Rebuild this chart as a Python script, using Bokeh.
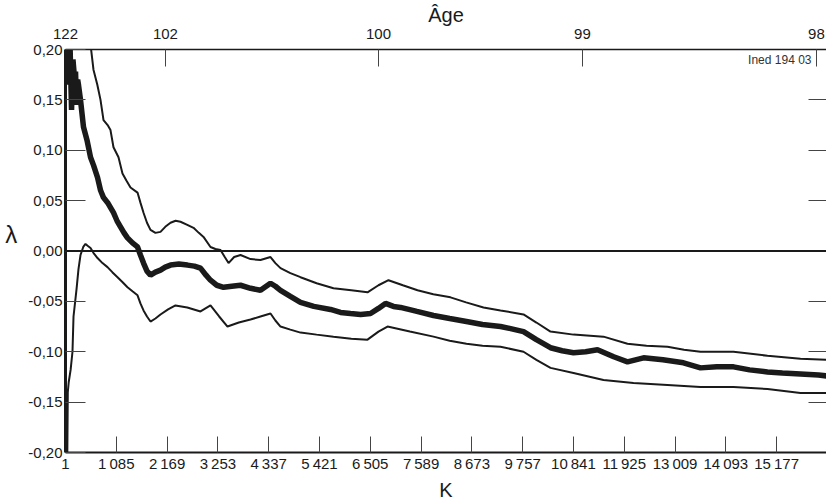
from bokeh.plotting import figure
from bokeh.models import Range1d, LinearAxis, FixedTicker, Span, Label
from bokeh.embed import file_html
from bokeh.resources import INLINE

# ---- data ----
k_ticks = [1, 1085, 2169, 3253, 4337, 5421, 6505, 7589, 8673, 9757, 10841, 11925, 13009, 14093, 15177]
k_labels = ["1", "1\u2009085", "2\u2009169", "3\u2009253", "4\u2009337", "5\u2009421", "6\u2009505",
            "7\u2009589", "8\u2009673", "9\u2009757", "10\u2009841", "11\u2009925", "13\u2009009",
            "14\u2009093", "15\u2009177"]
age_pos = [1, 2134, 6680, 11033, 16026]
age_labels = ["122", "102", "100", "99", "98"]
lam_ticks = [-0.20, -0.15, -0.10, -0.05, 0.0, 0.05, 0.10, 0.15, 0.20]
lam_labels = ["-0,20", "-0,15", "-0,10", "-0,05", "0,00", "0,05", "0,10", "0,15", "0,20"]

mid_k = [1, 20, 45, 70, 100, 130, 160, 193, 215, 236, 260, 278, 321, 385, 460, 535, 600, 684, 750,
         812, 900, 1025, 1100, 1175, 1250, 1324, 1430, 1538, 1600, 1666, 1740, 1815, 1920, 2028,
         2130, 2242, 2420, 2604, 2750, 2882, 3000, 3095, 3230, 3373, 3550, 3736, 3950, 4162, 4376,
         4480, 4589, 4800, 5016, 5300, 5656, 5870, 6083, 6300, 6510, 6680, 6830, 7000, 7150, 7500,
         7854, 8200, 8558, 8900, 9284, 9500, 9775, 10050, 10351, 10600, 10842, 11100, 11354, 11700,
         11994, 12336, 12750, 13190, 13552, 13900, 14257, 14600, 14982, 15300, 15686, 16070, 16241]
mid_lam = [0.200, 0.165, 0.200, 0.168, 0.200, 0.140, 0.190, 0.172, 0.178, 0.145, 0.170, 0.165,
           0.150, 0.123, 0.110, 0.093, 0.085, 0.073, 0.060, 0.053, 0.048, 0.038, 0.030, 0.024,
           0.018, 0.013, 0.008, 0.004, -0.004, -0.012, -0.020, -0.024, -0.021, -0.019, -0.016,
           -0.014, -0.013, -0.014, -0.015, -0.017, -0.024, -0.029, -0.034, -0.036, -0.035, -0.034,
           -0.037, -0.039, -0.032, -0.035, -0.039, -0.045, -0.051, -0.055, -0.058, -0.061, -0.062,
           -0.063, -0.062, -0.057, -0.052, -0.055, -0.056, -0.060, -0.064, -0.067, -0.070, -0.073,
           -0.075, -0.077, -0.080, -0.088, -0.096, -0.099, -0.101, -0.100, -0.098, -0.105, -0.110,
           -0.106, -0.108, -0.111, -0.116, -0.115, -0.115, -0.118, -0.120, -0.121, -0.122, -0.123,
           -0.124]

up_k = [535, 598, 680, 748, 812, 900, 961, 1025, 1132, 1217, 1300, 1388, 1538, 1600, 1666, 1740,
        1815, 1920, 2028, 2130, 2242, 2350, 2455, 2600, 2733, 2846, 2946, 3095, 3200, 3309, 3400,
        3480, 3600, 3736, 3950, 4162, 4376, 4480, 4589, 4800, 5016, 5360, 5720, 6100, 6446, 6680,
        6894, 7200, 7513, 7850, 8217, 8550, 8921, 9284, 9775, 10050, 10351, 10842, 11482, 11994,
        12400, 12848, 13200, 13552, 14257, 14982, 15686, 16241]
up_lam = [0.205, 0.180, 0.165, 0.150, 0.130, 0.125, 0.120, 0.103, 0.093, 0.077, 0.070, 0.063,
          0.058, 0.048, 0.038, 0.028, 0.021, 0.018, 0.019, 0.024, 0.028, 0.030, 0.029, 0.026,
          0.023, 0.018, 0.014, 0.004, 0.002, 0.001, -0.006, -0.012, -0.006, -0.004, -0.008,
          -0.009, -0.006, -0.012, -0.017, -0.022, -0.026, -0.032, -0.037, -0.039, -0.041, -0.034,
          -0.029, -0.034, -0.039, -0.043, -0.046, -0.051, -0.056, -0.059, -0.063, -0.071, -0.080,
          -0.083, -0.085, -0.092, -0.094, -0.095, -0.098, -0.100, -0.100, -0.104, -0.107, -0.108]

lo_k = [1, 40, 50, 70, 110, 150, 172, 236, 278, 321, 380, 428, 480, 535, 600, 684, 790, 897, 1000,
        1111, 1220, 1324, 1430, 1538, 1600, 1666, 1740, 1815, 1920, 2028, 2190, 2348, 2600, 2882,
        3095, 3280, 3458, 3700, 3949, 4162, 4376, 4480, 4589, 4800, 5016, 5360, 5720, 6100, 6446,
        6680, 6873, 7350, 7854, 8200, 8558, 8900, 9284, 9775, 10050, 10351, 10842, 11482, 12122,
        12848, 13552, 14257, 14982, 15686, 16241]
lo_lam = [-0.200, -0.200, -0.140, -0.130, -0.118, -0.100, -0.065, -0.038, -0.018, -0.004, 0.004,
          0.007, 0.005, 0.003, -0.002, -0.007, -0.012, -0.016, -0.021, -0.026, -0.031, -0.036,
          -0.040, -0.044, -0.052, -0.059, -0.065, -0.070, -0.067, -0.063, -0.058, -0.054, -0.056,
          -0.060, -0.054, -0.065, -0.075, -0.071, -0.068, -0.065, -0.062, -0.069, -0.075, -0.078,
          -0.081, -0.083, -0.085, -0.087, -0.088, -0.080, -0.075, -0.080, -0.085, -0.089, -0.092,
          -0.094, -0.095, -0.100, -0.108, -0.116, -0.121, -0.128, -0.131, -0.133, -0.135, -0.135,
          -0.137, -0.141, -0.141]

FONT = "Liberation Sans"
INK = "#1a1a1a"
TICK = "#444444"

p = figure(width=826, height=503, x_range=Range1d(1, 16241), y_range=Range1d(-0.20, 0.20),
           output_backend="svg", toolbar_location=None,
           x_axis_location=None, y_axis_location=None,
           min_border_left=65, min_border_right=0, min_border_top=49, min_border_bottom=51)
p.outline_line_color = None
p.background_fill_color = "white"
p.border_fill_color = "white"
for g in p.grid:
    g.visible = False


def style_axis(ax, tick_in, line_w):
    ax.major_tick_in = tick_in
    ax.major_tick_out = 0
    ax.minor_tick_in = 0
    ax.minor_tick_out = 0
    ax.major_tick_line_color = TICK
    ax.major_tick_line_width = 1
    ax.axis_line_color = INK
    ax.axis_line_width = line_w
    ax.major_label_text_font = FONT
    ax.major_label_text_font_size = "15px"
    ax.major_label_text_color = INK
    ax.axis_label_text_font = FONT
    ax.axis_label_text_font_style = "normal"
    ax.axis_label_text_color = INK


xb = LinearAxis(ticker=FixedTicker(ticks=k_ticks),
                major_label_overrides=dict(zip(k_ticks, k_labels)), axis_label="K")
style_axis(xb, 16, 2)
xb.major_label_standoff = 2
xb.axis_label_standoff = 4
xb.axis_label_text_font_size = "20px"
p.add_layout(xb, "below")

xt = LinearAxis(ticker=FixedTicker(ticks=age_pos),
                major_label_overrides=dict(zip(age_pos, age_labels)), axis_label="Âge")
style_axis(xt, 17, 1.5)
xt.major_label_standoff = 11
xt.axis_label_standoff = 0
xt.axis_label_text_font_size = "20px"
p.add_layout(xt, "above")

yl = LinearAxis(ticker=FixedTicker(ticks=lam_ticks),
                major_label_overrides=dict(zip(lam_ticks, lam_labels)), axis_label="λ\n\u00a0")
style_axis(yl, 20, 3)
yl.major_label_standoff = 3
yl.axis_label_standoff = 8
yl.axis_label_orientation = "horizontal"
yl.axis_label_text_font_size = "24px"
p.add_layout(yl, "left")

right_ticks = lam_ticks[1:-1]
yr = LinearAxis(ticker=FixedTicker(ticks=right_ticks),
                major_label_overrides={t: "" for t in right_ticks})
style_axis(yr, 18, 1)
yr.axis_line_color = None
yr.major_label_standoff = 0
p.add_layout(yr, "right")

p.add_layout(Span(location=0, dimension="width", line_color=INK, line_width=2))

p.line(lo_k, lo_lam, line_color=INK, line_width=2)
p.line(up_k, up_lam, line_color=INK, line_width=2)
p.line(mid_k, mid_lam, line_color=INK, line_width=5.5)

p.add_layout(Label(x=15921, y=0.197, text="Ined 194 03", text_align="right",
                   text_baseline="top", text_font=FONT, text_font_size="12px",
                   text_color="#333333"))

open("out.html", "w").write(file_html(p, INLINE))
